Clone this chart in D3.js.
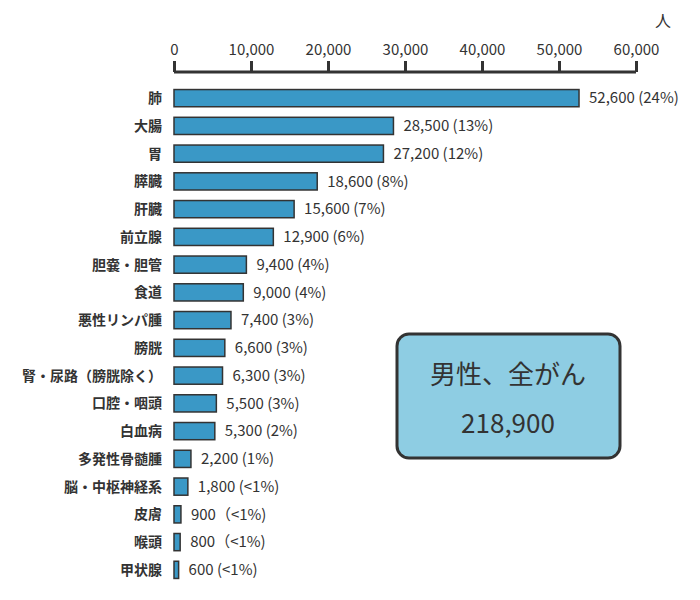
<!DOCTYPE html>
<html><head><meta charset="utf-8">
<script src="https://cdn.jsdelivr.net/npm/d3@7"></script>
<style>body{margin:0;background:#fff}text{font-family:"Noto Sans CJK JP","Noto Sans",sans-serif}</style>
</head><body><svg id="c" width="700" height="600"></svg>
<script>
const categories=["肺","大腸","胃","膵臓","肝臓","前立腺","胆嚢・胆管","食道","悪性リンパ腫","膀胱","腎・尿路（膀胱除く）","口腔・咽頭","白血病","多発性骨髄腫","脳・中枢神経系","皮膚","喉頭","甲状腺"];
const values=[52600,28500,27200,18600,15600,12900,9400,9000,7400,6600,6300,5500,5300,2200,1800,900,800,600];
const valueLabels=["52,600 (24%)","28,500 (13%)","27,200 (12%)","18,600 (8%)","15,600 (7%)","12,900 (6%)","9,400 (4%)","9,000 (4%)","7,400 (3%)","6,600 (3%)","6,300 (3%)","5,500 (3%)","5,300 (2%)","2,200 (1%)","1,800 (<1%)","900（<1%)","800（<1%)","600 (<1%)"];
const ticks=[0,10000,20000,30000,40000,50000,60000];
const unit="人";
const boxLines=["男性、全がん","218,900"];

const svg=d3.select("#c");
const x=d3.scaleLinear().domain([0,60000]).range([174,636]);
const y=d3.scaleBand().domain(categories).range([84,584]).paddingInner(0.38).paddingOuter(0.2);
const ax=svg.append("g").attr("transform","translate(0,72)")
 .call(d3.axisTop(x).tickValues(ticks).tickSize(11).tickPadding(6).tickFormat(d3.format(",")));
ax.select(".domain").attr("stroke","#333").attr("stroke-width",3).attr("d","M174,0H636");
ax.selectAll(".tick line").attr("stroke","#333").attr("stroke-width",3);
ax.selectAll(".tick text").attr("font-size",15).attr("fill","#333").attr("font-family","'Noto Sans CJK JP'");
svg.append("text").attr("x",663).attr("y",27).attr("text-anchor","middle").attr("font-size",16).attr("fill","#333").text(unit);

svg.selectAll("rect.bar").data(values).join("rect").attr("class","bar")
 .attr("x",x(0)).attr("y",(d,i)=>y(categories[i])).attr("width",d=>x(d)-x(0)).attr("height",y.bandwidth())
 .attr("fill","#3a98c6").attr("stroke","#333").attr("stroke-width",1.5);
svg.selectAll("text.cat").data(categories).join("text").attr("class","cat")
 .attr("x",162).attr("y",d=>y(d)+y.bandwidth()/2).attr("dy","0.35em").attr("text-anchor","end")
 .attr("font-size",14).attr("font-weight","bold").attr("fill","#333").text(d=>d);
svg.selectAll("text.val").data(values).join("text").attr("class","val")
 .attr("x",d=>x(d)+10).attr("y",(d,i)=>y(categories[i])+y.bandwidth()/2).attr("dy","0.35em")
 .attr("font-size",15).attr("fill","#333").text((d,i)=>valueLabels[i]);

svg.append("rect").attr("x",397).attr("y",334).attr("width",223).attr("height",124).attr("rx",12)
 .attr("fill","#8ecde3").attr("stroke","#333").attr("stroke-width",3);
svg.selectAll("text.box").data(boxLines).join("text").attr("class","box")
 .attr("x",508).attr("y",(d,i)=>384+i*49).attr("text-anchor","middle").attr("font-size",26).attr("fill","#333").text(d=>d);
</script></body></html>
